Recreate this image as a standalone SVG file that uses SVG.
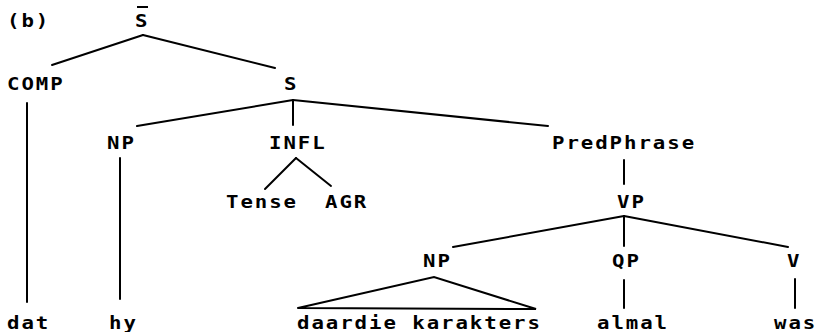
<svg xmlns="http://www.w3.org/2000/svg" width="818" height="332" viewBox="0 0 818 332">
<style>
text{font-family:"DejaVu Sans Mono","Liberation Mono",monospace;font-size:18px;font-weight:bold;letter-spacing:1.7px;fill:#000}
.e line,.e polyline{stroke:#000;stroke-width:2;fill:none;stroke-linecap:round}
</style>
<rect width="818" height="332" fill="#fff"/>
<text transform="translate(7,27) scale(1.15,1)">(b)</text>
<g id="Sbar"><text transform="translate(135,27) scale(1.15,1)">S</text><line x1="137" y1="7" x2="148" y2="7" stroke="#000" stroke-width="2"/></g>
<g id="COMP"><text transform="translate(7,90) scale(1.15,1)">COMP</text></g>
<g id="S"><text transform="translate(284,90) scale(1.15,1)">S</text></g>
<g id="NP1"><text transform="translate(107,149) scale(1.15,1)">NP</text></g>
<g id="INFL"><text transform="translate(269,149) scale(1.15,1)">INFL</text></g>
<g id="PredPhrase"><text transform="translate(552,149) scale(1.15,1)">PredPhrase</text></g>
<g id="Tense"><text transform="translate(226,208) scale(1.15,1)">Tense</text></g>
<g id="AGR"><text transform="translate(325,208) scale(1.15,1)">AGR</text></g>
<g id="VP"><text transform="translate(617,208) scale(1.15,1)">VP</text></g>
<g id="NP2"><text transform="translate(423,267) scale(1.15,1)">NP</text></g>
<g id="QP"><text transform="translate(612,267) scale(1.15,1)">QP</text></g>
<g id="V"><text transform="translate(787,267) scale(1.15,1)">V</text></g>
<g id="dat"><text transform="translate(7,329) scale(1.15,1)">dat</text></g>
<g id="hy"><text transform="translate(109,329) scale(1.15,1)">hy</text></g>
<g id="daardie"><text transform="translate(297,329) scale(1.15,1)">daardie karakters</text></g>
<g id="almal"><text transform="translate(597,329) scale(1.15,1)">almal</text></g>
<g id="was"><text transform="translate(774,329) scale(1.15,1)">was</text></g>
<g id="connectors" class="e">
<line x1="143" y1="35" x2="52" y2="65"/>
<line x1="143" y1="35" x2="275" y2="68"/>
<line x1="27" y1="103" x2="27" y2="302"/>
<line x1="293" y1="100" x2="137" y2="126"/>
<line x1="293" y1="100" x2="293" y2="125"/>
<line x1="293" y1="100" x2="548" y2="126"/>
<line x1="120" y1="158" x2="120" y2="299"/>
<line x1="296" y1="158" x2="265" y2="189"/>
<line x1="296" y1="158" x2="331" y2="186"/>
<line x1="624" y1="160" x2="624" y2="184"/>
<line x1="624" y1="216" x2="453" y2="247"/>
<line x1="624" y1="216" x2="624" y2="246"/>
<line x1="624" y1="216" x2="788" y2="247"/>
<polyline points="298,308 434,277 536,309 298,308"/>
<line x1="624" y1="280" x2="624" y2="308"/>
<line x1="795" y1="279" x2="795" y2="308"/>
</g>
</svg>
